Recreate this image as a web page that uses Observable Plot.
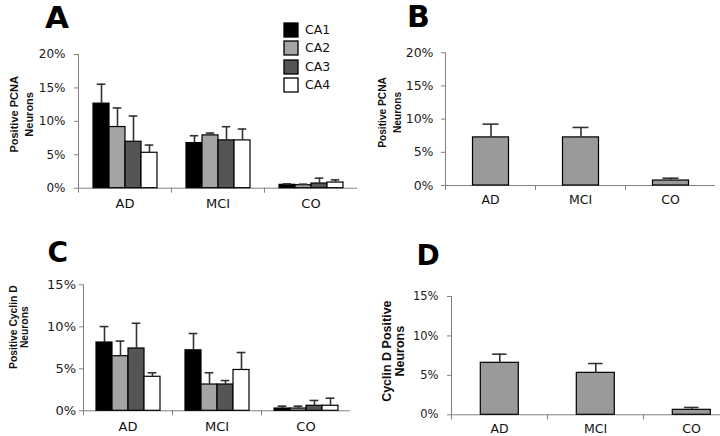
<!DOCTYPE html>
<html><head><meta charset="utf-8">
<script src="https://cdn.jsdelivr.net/npm/d3@7"></script>
<script src="https://cdn.jsdelivr.net/npm/@observablehq/plot@0.6"></script>
<style>
body{margin:0;background:#fff;}
#root{position:relative;width:720px;height:436px;overflow:hidden;background:#fff;}
.panel{position:absolute;}
.letter{position:absolute;font-family:"DejaVu Sans",sans-serif;font-weight:bold;line-height:1;color:#000;}
#legendA{position:absolute;left:284px;top:23px;}
#legendA [class*="-swatches"]{font-family:"DejaVu Sans",sans-serif !important;font-size:12.5px !important;margin:0 !important;color:#111;}
#legendA [class$="-swatch"]{padding-bottom:4.3px !important;line-height:14px;}
#legendA svg{margin-right:7px !important;overflow:visible;}
#legendA svg rect{stroke:#000;stroke-width:1.3px;}
</style></head><body><div id="root"></div>
<script>
const groups = ["AD", "MCI", "CO"];
const regions = ["CA1", "CA2", "CA3", "CA4"];
const regionFills = ["#000000", "#a4a4a4", "#555555", "#ffffff"];
const singleFill = ["#9a9a9a"];

// Panel A: PCNA-positive neurons by hippocampal region (%), rows = groups, columns = regions
const pcnaRegionMean = [[12.65, 9.15, 6.95, 5.3], [6.75, 7.9, 7.15, 7.15], [0.5, 0.45, 0.7, 0.85]];
const pcnaRegionErr  = [[2.9, 2.85, 3.85, 1.15], [1.1, 0.35, 2.05, 1.7], [0.15, 0.15, 0.8, 0.4]];
// Panel B: PCNA-positive neurons (%)
const pcnaMean = [7.25, 7.25, 0.75];
const pcnaErr  = [2.0, 1.5, 0.35];
// Panel C: Cyclin D-positive neurons by region (%)
const cyclinRegionMean = [[8.13, 6.5, 7.42, 4.05], [7.2, 3.13, 3.13, 4.86], [0.27, 0.27, 0.6, 0.6]];
const cyclinRegionErr  = [[1.9, 1.8, 3.0, 0.47], [2.0, 1.4, 0.47, 2.08], [0.28, 0.28, 0.63, 0.9]];
// Panel D: Cyclin D-positive neurons (%)
const cyclinMean = [6.59, 5.32, 0.63];
const cyclinErr  = [1.1, 1.18, 0.3];

const pcnaTicks = [0, 5, 10, 15, 20];
const cyclinTicks = [0, 5, 10, 15];
const panelLetters = ["A", "B", "C", "D"];
const yLabels = ["Positive PCNA\nNeurons", "Positive PCNA\nNeurons", "Positive Cyclin D\nNeurons", "Cyclin D Positive\nNeurons"];

function groupedRows(means, errs) {
  return groups.flatMap((g, i) => regions.map((r, j) => ({group: g, region: r, mean: means[i][j], hi: means[i][j] + errs[i][j]})));
}
function singleRows(means, errs) {
  return groups.map((g, i) => ({group: g, region: "all", mean: means[i], hi: means[i] + errs[i]}));
}

function panel(c) {
  const innerH = c.height - c.m[0] - c.m[2];
  return Plot.plot({
    width: c.width, height: c.height,
    marginTop: c.m[0], marginRight: c.m[1], marginBottom: c.m[2], marginLeft: c.m[3],
    style: {background: "transparent", fontFamily: "DejaVu Sans, sans-serif", overflow: "visible"},
    fx: {domain: groups, padding: 0, label: null},
    x: {domain: c.series, paddingInner: 0, paddingOuter: c.po, axis: null},
    y: {domain: [0, c.ticks[c.ticks.length - 1]], axis: null},
    color: {domain: c.series, range: c.fills},
    marks: [
      Plot.frame({anchor: "left", stroke: "#808080", insetTop: innerH, insetBottom: -4}),
      Plot.frame({anchor: "left", stroke: "#808080", facetAnchor: "left"}),
      Plot.ruleY([0], {stroke: "#808080"}),
      Plot.barY(c.rows, {fx: "group", x: "region", y: "mean", fill: "region", stroke: "#000", strokeWidth: 1.2}),
      Plot.ruleX(c.rows, {fx: "group", x: "region", y1: "mean", y2: "hi", stroke: "#333", strokeWidth: 1.6}),
      Plot.tickY(c.rows, {fx: "group", x: "region", y: "hi", stroke: "#333", strokeWidth: 1.6, insetLeft: c.cap, insetRight: c.cap}),
      Plot.axisY({ticks: c.ticks, tickFormat: d => d + "%", tickSize: 4, tickPadding: c.tickPad, stroke: "#808080", fill: "#1a1a1a", fontSize: c.tickFont, label: null}),
      Plot.axisFx({anchor: "bottom", tickSize: 0, tickPadding: c.catPad, fontSize: c.catFont, fill: "#111", label: null}),
      Plot.text([c.label], {fx: [groups[0]], frameAnchor: "left", textAnchor: "middle", lineAnchor: "middle", rotate: -90, dx: c.ldx, dy: c.ldy, fontWeight: "bold", fontSize: c.lfs, lineHeight: c.llh, fontFamily: "Liberation Sans, Arial, sans-serif", fill: "#111"})
    ]
  });
}

const root = document.getElementById("root");
function place(node, left, top) {
  const d = document.createElement("div");
  d.className = "panel";
  d.style.left = left + "px"; d.style.top = top + "px";
  d.appendChild(node);
  root.appendChild(d);
}

place(panel({rows: groupedRows(pcnaRegionMean, pcnaRegionErr), series: regions, fills: regionFills, ticks: pcnaTicks,
  label: yLabels[0], width: 360, height: 220, m: [54, 3, 32.3, 77], po: 0.83, cap: 3.75,
  tickFont: 12, tickPad: 9, catFont: 13, catPad: 11, lfs: 11, llh: 1.32, ldx: -57.75, ldy: -7}), 0, 0);

place(panel({rows: singleRows(pcnaMean, pcnaErr), series: ["all"], fills: singleFill, ticks: pcnaTicks,
  label: yLabels[1], width: 360, height: 220, m: [52.3, 5, 35, 84.5], po: 0.75, cap: 10,
  tickFont: 12.5, tickPad: 8, catFont: 12.5, catPad: 10, lfs: 10.2, llh: 1.55, ldx: -57, ldy: -6.7}), 360, 0);

place(panel({rows: groupedRows(cyclinRegionMean, cyclinRegionErr), series: regions, fills: regionFills, ticks: cyclinTicks,
  label: yLabels[2], width: 360, height: 216, m: [64.3, 9, 25.7, 82], po: 0.75, cap: 3.6,
  tickFont: 13, tickPad: 3.5, catFont: 13, catPad: 11, lfs: 10.3, llh: 1.1, ldx: -64.7, ldy: -20.6}), 0, 220);

place(panel({rows: singleRows(cyclinMean, cyclinErr), series: ["all"], fills: singleFill, ticks: cyclinTicks,
  label: yLabels[3], width: 360, height: 216, m: [76, -19, 21.7, 90.7], po: 0.76, cap: 11.8,
  tickFont: 11.5, tickPad: 9, catFont: 12.5, catPad: 9.5, lfs: 12.5, llh: 1.07, ldx: -58.2, ldy: -4.5}), 360, 220);

// Panel letters
const letterPos = [[45, 2, 31], [407, 2, 30], [47.6, 239.2, 28], [416.5, 241.7, 28]];
panelLetters.forEach((t, i) => {
  const s = document.createElement("div");
  s.className = "letter";
  s.textContent = t;
  s.style.left = letterPos[i][0] + "px"; s.style.top = letterPos[i][1] + "px"; s.style.fontSize = letterPos[i][2] + "px";
  root.appendChild(s);
});

// Legend for panel A
const lg = document.createElement("div");
lg.id = "legendA";
lg.appendChild(Plot.legend({color: {domain: regions, range: regionFills}, columns: 1, swatchSize: 14}));
root.appendChild(lg);
</script>
</body></html>
